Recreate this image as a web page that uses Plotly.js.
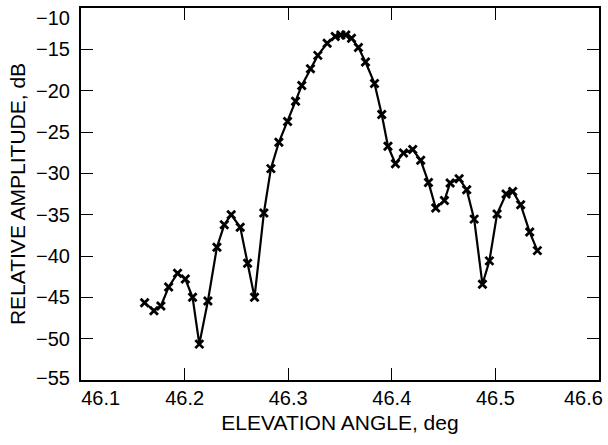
<!DOCTYPE html>
<html>
<head>
<meta charset="utf-8">
<script src="https://cdn.plot.ly/plotly-3.0.1.min.js"></script>
<style>html,body{margin:0;padding:0;background:#fff}#chart{width:608px;height:445px}</style>
</head>
<body>
<div id="chart"></div>
<script>
var elevationDeg = [
  46.1614, 46.1704, 46.1771, 46.1846, 46.1932, 46.2007, 46.2077, 46.2142, 46.2225, 46.2312,
  46.2383, 46.2450, 46.2537, 46.2608, 46.2675, 46.2765, 46.2833, 46.2910, 46.2994, 46.3071,
  46.3131, 46.3215, 46.3286, 46.3376, 46.3454, 46.3508, 46.3556, 46.3611, 46.3678, 46.3746,
  46.3833, 46.3903, 46.3963, 46.4035, 46.4113, 46.4202, 46.4279, 46.4354, 46.4424, 46.4508,
  46.4563, 46.4650, 46.4723, 46.4795, 46.4875, 46.4942, 46.5016, 46.5103, 46.5167, 46.5244,
  46.5331, 46.5405
];
var amplitudeDb = [
  -45.65, -46.62, -46.05, -43.75, -42.09, -42.78, -45.00, -50.66, -45.45, -38.93,
  -36.23, -35.01, -36.51, -40.87, -45.00, -34.81, -29.43, -26.24, -23.73, -21.27,
  -19.37, -17.34, -15.73, -14.27, -13.46, -13.27, -13.27, -13.67, -14.79, -16.54,
  -19.12, -22.88, -26.73, -28.83, -27.53, -27.13, -28.43, -31.10, -34.20, -33.28,
  -31.17, -30.65, -31.98, -35.54, -43.42, -40.59, -34.93, -32.50, -32.19, -33.80,
  -37.11, -39.35
];
var xTickVals = [46.1, 46.2, 46.3, 46.4, 46.5, 46.6];
var xTickText = ["46.1", "46.2", "46.3", "46.4", "46.5", "46.6"];
var yTickVals = [-55, -50, -45, -40, -35, -30, -25, -20, -15, -10];
var yTickText = ["\u221255", "\u221250", "\u221245", "\u221240", "\u221235", "\u221230", "\u221225", "\u221220", "\u221215", "\u221210"];

var xRange = [46.1, 46.6];
var yRange = [-55, -10];

// end labels are nudged inward as in the reference
var xLabelPos = xTickVals.slice();
xLabelPos[0] += 0.019;
xLabelPos[xLabelPos.length - 1] -= 0.015;
var yLabelPos = yTickVals.slice();
yLabelPos[0] += 0.25;
yLabelPos[yLabelPos.length - 1] -= 1.2;

var font = "Liberation Sans, Arial, sans-serif";
var tickSize = 20;
var titleSize = 21;

var traces = [
  {
    x: elevationDeg, y: amplitudeDb, type: "scatter", mode: "lines+markers",
    line: {color: "#000", width: 2.2},
    marker: {symbol: "x-thin", size: 8, color: "#000", line: {color: "#000", width: 2.8}},
    hoverinfo: "skip", showlegend: false
  },
  {
    x: elevationDeg, y: amplitudeDb, xaxis: "x2", yaxis: "y2", type: "scatter", mode: "markers",
    marker: {opacity: 0}, hoverinfo: "skip", showlegend: false
  }
];

var axisCommon = {
  showgrid: false, zeroline: false, showline: true, linecolor: "#000", linewidth: 2,
  ticks: "inside", ticklen: 12, tickwidth: 1, tickcolor: "#000", mirror: "ticks"
};

var layout = {
  width: 608, height: 445,
  margin: {l: 81, r: 9, t: 8, b: 65},
  paper_bgcolor: "#fff", plot_bgcolor: "#fff",
  font: {family: font, color: "#000", size: tickSize},
  xaxis: Object.assign({}, axisCommon, {
    range: xRange, tickvals: xTickVals, showticklabels: false,
    title: {text: "ELEVATION ANGLE, deg", font: {family: font, size: titleSize, color: "#000"}, standoff: 34}
  }),
  yaxis: Object.assign({}, axisCommon, {
    range: yRange, tickvals: yTickVals, showticklabels: false,
    title: {text: "RELATIVE AMPLITUDE, dB", font: {family: font, size: titleSize, color: "#000"}, standoff: 48}
  }),
  xaxis2: {
    overlaying: "x", anchor: "y", side: "bottom", range: xRange,
    showgrid: false, zeroline: false, showline: false, ticks: "",
    tickvals: xLabelPos, ticktext: xTickText, ticklabelstandoff: 4,
    tickfont: {family: font, size: tickSize, color: "#000"}
  },
  yaxis2: {
    overlaying: "y", anchor: "x", side: "left", range: yRange,
    showgrid: false, zeroline: false, showline: false, ticks: "",
    tickvals: yLabelPos, ticktext: yTickText, ticklabelstandoff: 10,
    tickfont: {family: font, size: tickSize, color: "#000"}
  }
};

Plotly.newPlot("chart", traces, layout, {staticPlot: true, displayModeBar: false});
</script>
</body>
</html>
